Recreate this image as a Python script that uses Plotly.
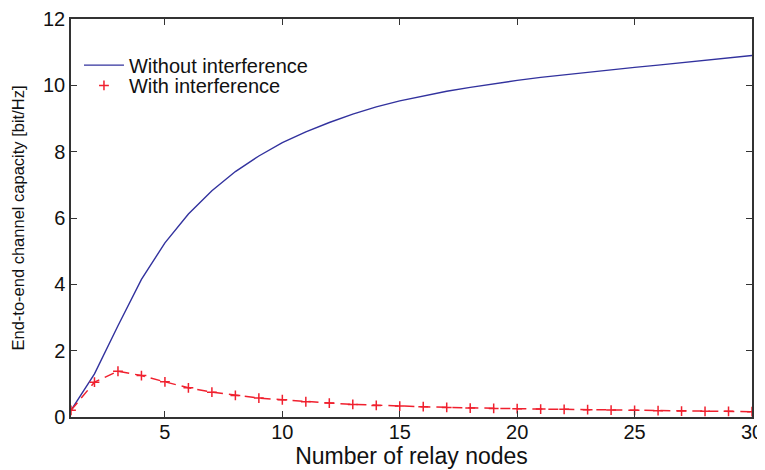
import plotly.graph_objects as go

relay_nodes = list(range(1, 31))
without_interference = [0.2, 1.3, 2.75, 4.15, 5.25, 6.12, 6.82, 7.4, 7.87, 8.27,
                        8.6, 8.88, 9.13, 9.35, 9.53, 9.68, 9.82, 9.94, 10.05, 10.15,
                        10.24, 10.32, 10.4, 10.47, 10.54, 10.61, 10.68, 10.75, 10.82, 10.9]
with_interference = [0.2, 1.05, 1.38, 1.25, 1.06, 0.88, 0.75, 0.65, 0.57, 0.52,
                     0.46, 0.42, 0.38, 0.35, 0.33, 0.31, 0.29, 0.27, 0.26, 0.25,
                     0.24, 0.23, 0.22, 0.21, 0.2, 0.19, 0.18, 0.17, 0.17, 0.16]
x_ticks = [5, 10, 15, 20, 25, 30]
y_ticks = [0, 2, 4, 6, 8, 10, 12]

BLUE = "#32329e"
RED = "#f0202e"
FONT = "Liberation Sans, Arial, sans-serif"

fig = go.Figure()
fig.add_trace(go.Scatter(x=relay_nodes, y=without_interference, mode="lines",
                         line=dict(color=BLUE, width=1.4),
                         name="Without interference", legend="legend"))
fig.add_trace(go.Scatter(x=relay_nodes, y=with_interference, mode="lines",
                         line=dict(color=RED, width=1.5, dash="10px,6px"),
                         showlegend=False, hoverinfo="skip"))
fig.add_trace(go.Scatter(x=relay_nodes, y=with_interference, mode="markers",
                         marker=dict(symbol="cross-thin", size=7,
                                     line=dict(color=RED, width=1.5)),
                         name="With interference", legend="legend2"))

axis_common = dict(showgrid=False, zeroline=False, showline=True, mirror="ticks",
                   linecolor="#333333", linewidth=1.5, ticks="inside",
                   ticklen=6, tickcolor="#333333", automargin=True,
                   ticklabeloverflow="allow",
                   tickfont=dict(family=FONT, size=20, color="#111111"))

fig.update_xaxes(range=[1, 30], tickvals=x_ticks, **axis_common,
                 ticklabelstandoff=-4,
                 title=dict(text="Number of relay nodes",
                            font=dict(family=FONT, size=23, color="#111111"),
                            standoff=6))
fig.update_yaxes(range=[0, 12], tickvals=y_ticks, **axis_common,
                 title=dict(text="End-to-end channel capacity [bit/Hz]",
                            font=dict(family=FONT, size=16.5, color="#111111"),
                            standoff=14))

legend_common = dict(xanchor="left", yanchor="middle", bgcolor="rgba(0,0,0,0)",
                     font=dict(family=FONT, size=20, color="#111111"),
                     itemwidth=40)

# page body adds an 8px margin, so the figure is 8px smaller than the window
fig.update_layout(
    width=757, height=462,
    margin=dict(l=63, r=13, t=11, b=53, autoexpand=False),
    plot_bgcolor="white", paper_bgcolor="white",
    legend=dict(x=0.0117, y=0.884, **legend_common),
    legend2=dict(x=0.0117, y=0.833, **legend_common),
    showlegend=True,
)

fig.write_html("out.html")
